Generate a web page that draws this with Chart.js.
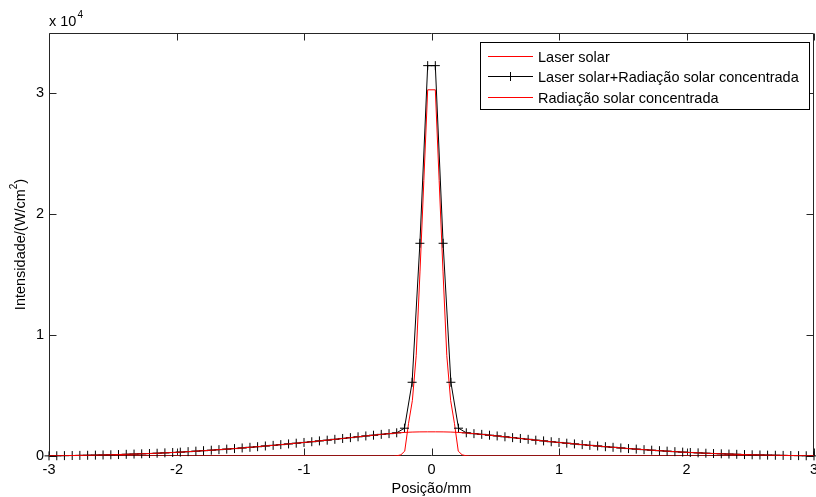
<!DOCTYPE html>
<html>
<head>
<meta charset="utf-8">
<title>Intensidade</title>
<script src="https://cdn.jsdelivr.net/npm/chart.js@4.4.1/dist/chart.umd.min.js"></script>
<style>
  body { margin: 0; background: #fff; }
  canvas { display: block; }
</style>
</head>
<body>
<canvas id="myChart" width="816" height="497"></canvas>
<script>
//dados
const posicao = [
  -3.000, -2.939, -2.879, -2.818, -2.758, -2.697, -2.636, -2.576, -2.515, -2.455,
  -2.394, -2.333, -2.273, -2.212, -2.152, -2.091, -2.030, -1.970, -1.909, -1.848,
  -1.788, -1.727, -1.667, -1.606, -1.545, -1.485, -1.424, -1.364, -1.303, -1.242,
  -1.182, -1.121, -1.061, -1.000, -0.939, -0.879, -0.818, -0.758, -0.697, -0.636,
  -0.576, -0.515, -0.455, -0.394, -0.333, -0.273, -0.212, -0.152, -0.091, -0.030,
  0.030, 0.091, 0.152, 0.212, 0.273, 0.333, 0.394, 0.455, 0.515, 0.576,
  0.636, 0.697, 0.758, 0.818, 0.879, 0.939, 1.000, 1.061, 1.121, 1.182,
  1.242, 1.303, 1.364, 1.424, 1.485, 1.545, 1.606, 1.667, 1.727, 1.788,
  1.848, 1.909, 1.970, 2.030, 2.091, 2.152, 2.212, 2.273, 2.333, 2.394,
  2.455, 2.515, 2.576, 2.636, 2.697, 2.758, 2.818, 2.879, 2.939, 3.000,
];

const somaValores = [
  10, 20, 30, 40, 50, 60, 70, 85, 100, 120,
  140, 160, 180, 205, 230, 260, 290, 320, 360, 400,
  440, 480, 525, 570, 615, 665, 720, 770, 830, 880,
  940, 1000, 1060, 1120, 1180, 1250, 1310, 1380, 1450, 1520,
  1590, 1660, 1720, 1790, 1850, 1920, 2300, 6100, 17600, 32300,
  32300, 17600, 6100, 2300, 1920, 1850, 1790, 1720, 1660, 1590,
  1520, 1450, 1380, 1310, 1250, 1180, 1120, 1060, 1000, 940,
  880, 830, 770, 720, 665, 615, 570, 525, 480, 440,
  400, 360, 320, 290, 260, 230, 205, 180, 160, 140,
  120, 100, 85, 70, 60, 50, 40, 30, 20, 10,
];

const radiacaoValores = [
  10, 20, 30, 40, 50, 60, 70, 85, 100, 120,
  140, 160, 180, 205, 230, 260, 290, 320, 360, 400,
  440, 480, 525, 570, 615, 665, 720, 770, 830, 880,
  940, 1000, 1060, 1120, 1180, 1250, 1310, 1380, 1450, 1520,
  1590, 1660, 1720, 1790, 1850, 1900, 1950, 1980, 1995, 2000,
  2000, 1995, 1980, 1950, 1900, 1850, 1790, 1720, 1660, 1590,
  1520, 1450, 1380, 1310, 1250, 1180, 1120, 1060, 1000, 940,
  880, 830, 770, 720, 665, 615, 570, 525, 480, 440,
  400, 360, 320, 290, 260, 230, 205, 180, 160, 140,
  120, 100, 85, 70, 60, 50, 40, 30, 20, 10,
];

const laserPosicao = [
  -3, -0.30, -0.27, -0.24, -0.21, -0.18, -0.15, -0.12, -0.09, -0.06, -0.03,
  0.03, 0.06, 0.09, 0.12, 0.15, 0.18, 0.21, 0.24, 0.27, 0.30, 3,
];
const laserValores = [
  0, 0, 20, 100, 400, 2700, 4600, 8300, 15300, 22800, 30300,
  30300, 22800, 15300, 8300, 4600, 2700, 400, 100, 20, 0, 0,
];

const xTicks = [-3, -2, -1, 0, 1, 2, 3];
const yTicks = [0, 10000, 20000, 30000];
const legendas = [
  "Laser solar",
  "Laser solar+Radiação solar concentrada",
  "Radiação solar concentrada",
];

const FONTE = "'Liberation Sans', Arial, sans-serif";
const pares = (xs, ys) => xs.map((x, i) => ({ x: x, y: ys[i] }));

//moldura, ticks para dentro, titulos e legenda
const matlabPlugin = {
  id: "matlab",
  beforeDraw(chart) {
    const ctx = chart.ctx;
    ctx.save();
    ctx.fillStyle = "#fff";
    ctx.fillRect(0, 0, chart.width, chart.height);
    ctx.restore();
  },
  beforeDatasetsDraw(chart) {
    const { ctx, chartArea: a, scales } = chart;
    const l = Math.round(a.left) + 0.5;
    const r = Math.round(a.right) - 0.5;
    const t = Math.round(a.top) + 0.5;
    const b = Math.round(a.bottom) - 0.5;
    ctx.save();
    ctx.strokeStyle = "#262626";
    ctx.lineWidth = 1;
    ctx.beginPath();
    ctx.rect(l, t, r - l, b - t);
    xTicks.forEach((v) => {
      const px = Math.round(scales.x.getPixelForValue(v)) + 0.5;
      ctx.moveTo(px, b);
      ctx.lineTo(px, b - 7);
      ctx.moveTo(px, t);
      ctx.lineTo(px, t + 7);
    });
    yTicks.forEach((v) => {
      const py = Math.round(scales.y.getPixelForValue(v)) + 0.5;
      ctx.moveTo(l, py);
      ctx.lineTo(l + 7, py);
      ctx.moveTo(r, py);
      ctx.lineTo(r - 7, py);
    });
    ctx.stroke();

    //rotulos do eixo x
    ctx.fillStyle = "#000";
    ctx.font = "14.5px " + FONTE;
    ctx.textAlign = "center";
    ctx.textBaseline = "alphabetic";
    xTicks.forEach((v) => {
      ctx.fillText(String(v), scales.x.getPixelForValue(v), 474);
    });
    ctx.restore();
  },
  afterDraw(chart) {
    const { ctx, chartArea: a, data } = chart;
    ctx.save();
    ctx.fillStyle = "#000";

    //x 10^4
    ctx.font = "14.5px " + FONTE;
    ctx.textAlign = "left";
    ctx.textBaseline = "alphabetic";
    ctx.fillText("x 10", a.left, 26);
    const w10 = ctx.measureText("x 10").width;
    ctx.font = "10px " + FONTE;
    ctx.fillText("4", a.left + w10 + 1, 18);

    //titulo x
    ctx.font = "14.5px " + FONTE;
    ctx.textAlign = "center";
    ctx.fillText("Posição/mm", (a.left + a.right) / 2, 493);

    //titulo y
    ctx.save();
    ctx.translate(25, (a.top + a.bottom) / 2);
    ctx.rotate(-Math.PI / 2);
    ctx.textAlign = "left";
    const p1 = "Intensidade/(W/cm";
    const p3 = ")";
    ctx.font = "14.5px " + FONTE;
    const w1 = ctx.measureText(p1).width;
    const w3 = ctx.measureText(p3).width;
    ctx.font = "10px " + FONTE;
    const w2 = ctx.measureText("2").width;
    let x0 = -(w1 + w2 + w3) / 2;
    ctx.font = "14.5px " + FONTE;
    ctx.fillText(p1, x0, 0);
    ctx.font = "10px " + FONTE;
    ctx.fillText("2", x0 + w1, -8);
    ctx.font = "14.5px " + FONTE;
    ctx.fillText(p3, x0 + w1 + w2, 0);
    ctx.restore();

    //legenda
    const lx = 480.5, ly = 42.5, lw = 329, lh = 67;
    ctx.fillStyle = "#fff";
    ctx.fillRect(lx, ly, lw, lh);
    ctx.strokeStyle = "#000";
    ctx.lineWidth = 1;
    ctx.strokeRect(lx, ly, lw, lh);
    ctx.font = "14.5px " + FONTE;
    ctx.textAlign = "left";
    ctx.textBaseline = "middle";
    data.datasets.forEach((ds, i) => {
      const yy = Math.round(ly + 13 + i * 20.5) + 0.5;
      ctx.strokeStyle = ds.borderColor;
      ctx.beginPath();
      ctx.moveTo(488, yy);
      ctx.lineTo(533, yy);
      if (ds.pointRadius > 0) {
        ctx.moveTo(510.5, yy - 4.5);
        ctx.lineTo(510.5, yy + 4.5);
        ctx.moveTo(506, yy);
        ctx.lineTo(515, yy);
      }
      ctx.stroke();
      ctx.fillStyle = "#000";
      ctx.fillText(ds.label, 538, yy + 1);
    });
    ctx.restore();
  },
};

new Chart("myChart", {
  type: "scatter",
  data: {
    datasets: [
      {
        label: legendas[0],
        data: pares(laserPosicao, laserValores),
        showLine: true,
        borderColor: "#ff0000",
        borderWidth: 1,
        pointRadius: 0,
        order: 3,
      },
      {
        label: legendas[1],
        data: pares(posicao, somaValores),
        showLine: true,
        borderColor: "#000000",
        borderWidth: 1,
        pointStyle: "cross",
        pointRadius: 4.5,
        pointBorderColor: "#000000",
        pointBorderWidth: 1,
        order: 2,
        clip: false,
      },
      {
        label: legendas[2],
        data: pares(posicao, radiacaoValores),
        showLine: true,
        borderColor: "#ff0000",
        borderWidth: 1,
        pointRadius: 0,
        order: 1,
      },
    ],
  },
  options: {
    responsive: false,
    animation: false,
    devicePixelRatio: 1,
    layout: {
      autoPadding: false,
      padding: { top: 33, right: 2, left: 0, bottom: 0 },
    },
    plugins: {
      legend: { display: false },
      tooltip: { enabled: false },
    },
    elements: { line: { tension: 0 } },
    scales: {
      x: {
        type: "linear",
        min: -3,
        max: 3,
        afterBuildTicks: (s) => {
          s.ticks = xTicks.map((v) => ({ value: v }));
        },
        afterFit: (s) => {
          s.height = 41;
        },
        grid: { display: false, drawTicks: false },
        border: { display: false },
        ticks: { display: false },
      },
      y: {
        type: "linear",
        min: 0,
        max: 35000,
        afterBuildTicks: (s) => {
          s.ticks = yTicks.map((v) => ({ value: v }));
        },
        afterFit: (s) => {
          s.width = 49;
          s.paddingTop = 0;
          s.paddingBottom = 0;
        },
        grid: { display: false, drawTicks: false },
        border: { display: false },
        ticks: {
          color: "#000",
          padding: 5,
          autoSkip: false,
          font: { family: FONTE, size: 14.5 },
          callback: (v) => v / 10000,
        },
      },
    },
  },
  plugins: [matlabPlugin],
});
</script>
</body>
</html>
